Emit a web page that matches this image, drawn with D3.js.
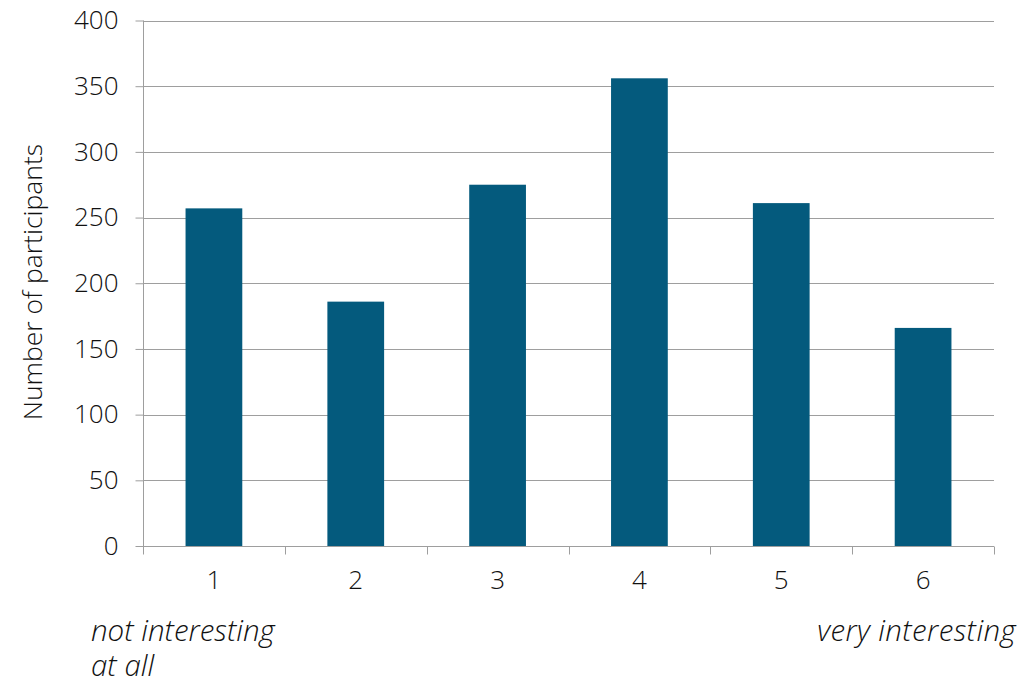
<!DOCTYPE html>
<html>
<head>
<meta charset="utf-8">
<script src="https://cdn.jsdelivr.net/npm/d3@7"></script>
<style>
  html, body { margin: 0; padding: 0; background: #fff; }
  svg text { font-family: "Open Sans", "Noto Sans", sans-serif; font-weight: 300; fill: #111; }
</style>
</head>
<body>
<svg id="chart" width="1022" height="684"></svg>
<script>
// Ratings on a 1–6 scale and how many participants chose each
const categories = ["1", "2", "3", "4", "5", "6"];
const participants = [257, 186, 275, 356, 261, 166];
const yTicks = [0, 50, 100, 150, 200, 250, 300, 350, 400];
const yTitle = "Number of participants";
const lowLabel = ["not interesting", "at all"];
const highLabel = "very interesting";

const svg = d3.select("#chart");
const plot = { left: 143, right: 994, top: 20.5, bottom: 546 };

const x = d3.scaleBand()
  .domain(categories)
  .range([plot.left, plot.right])
  .paddingInner(0.6)
  .paddingOuter(0.3);

const y = d3.scaleLinear()
  .domain([0, 400])
  .range([plot.bottom, plot.top]);

const gridColor = "#9e9e9e";

// Horizontal gridlines
svg.append("g")
  .selectAll("line")
  .data(yTicks.filter(d => d > 0))
  .join("line")
  .attr("x1", plot.left)
  .attr("x2", plot.right)
  .attr("y1", d => Math.round(y(d)) + 0.5)
  .attr("y2", d => Math.round(y(d)) + 0.5)
  .attr("stroke", gridColor)
  .attr("stroke-width", 1);

// Bars
svg.append("g")
  .selectAll("rect")
  .data(participants)
  .join("rect")
  .attr("x", (d, i) => x(categories[i]))
  .attr("width", x.bandwidth())
  .attr("y", d => y(d))
  .attr("height", d => y(0) - y(d))
  .attr("fill", "#045a7d");

// Y axis
const yAxis = d3.axisLeft(y)
  .tickValues(yTicks)
  .tickSize(8)
  .tickPadding(17)
  .tickFormat(d3.format("d"));

const gy = svg.append("g")
  .attr("transform", `translate(${plot.left + 0.5},0)`)
  .call(yAxis);
gy.select(".domain").attr("stroke", gridColor).attr("d", `M0,${plot.top}V${plot.bottom}`);
gy.selectAll(".tick line").attr("stroke", gridColor);
gy.selectAll(".tick text")
  .style("font-size", "26px")
  .attr("fill", "#111");

// X axis with ticks between categories
const gx = svg.append("g")
  .attr("transform", `translate(0,${Math.round(plot.bottom) + 0.5})`);
gx.append("line")
  .attr("x1", plot.left).attr("x2", plot.right)
  .attr("stroke", gridColor);
const step = x.step();
const boundaries = d3.range(categories.length + 1).map(i => x(categories[0]) - x.paddingOuter() * step + i * step);
gx.selectAll("line.sep")
  .data(boundaries)
  .join("line")
  .attr("class", "sep")
  .attr("x1", d => Math.round(d) + 0.5)
  .attr("x2", d => Math.round(d) + 0.5)
  .attr("y1", 0)
  .attr("y2", 8)
  .attr("stroke", gridColor);
gx.selectAll("text.cat")
  .data(categories)
  .join("text")
  .attr("class", "cat")
  .attr("x", d => x(d) + x.bandwidth() / 2)
  .attr("y", 42)
  .attr("text-anchor", "middle")
  .style("font-size", "26px")
  .text(d => d);

// Y axis title
svg.append("text")
  .attr("transform", `translate(42,282) rotate(-90)`)
  .attr("text-anchor", "middle")
  .style("font-size", "26.5px")
  .text(yTitle);

// Scale end descriptions
svg.append("text")
  .attr("x", 91)
  .attr("y", 641)
  .style("font-size", "29.5px")
  .style("font-style", "italic")
  .selectAll("tspan")
  .data(lowLabel)
  .join("tspan")
  .attr("x", 91)
  .attr("dy", (d, i) => i === 0 ? 0 : 35)
  .text(d => d);

svg.append("text")
  .attr("x", 1016)
  .attr("y", 641)
  .attr("text-anchor", "end")
  .style("font-size", "29.5px")
  .style("font-style", "italic")
  .style("letter-spacing", "0.4px")
  .text(highLabel);
</script>
</body>
</html>
